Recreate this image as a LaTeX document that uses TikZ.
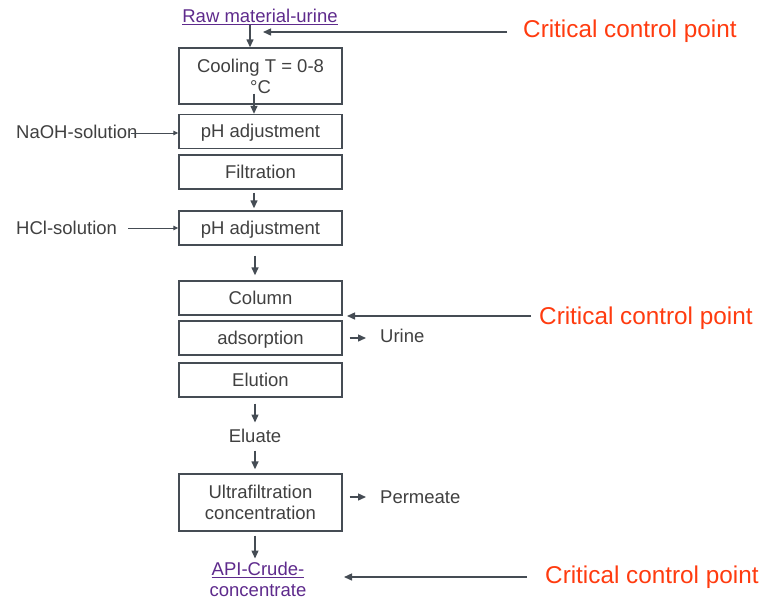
\documentclass[tikz,border=0pt]{standalone}
\usepackage{fontspec}
\setmainfont{Liberation Sans}
\usetikzlibrary{arrows.meta,calc}
\definecolor{ink}{HTML}{404040}
\definecolor{linec}{HTML}{454C54}
\definecolor{linkc}{HTML}{5E2A8C}
\definecolor{ccp}{HTML}{FF3B0F}
\begin{document}
\begin{tikzpicture}[x=1pt,y=-1pt,
  txt/.style={font=\fontsize{18.5}{21}\selectfont, text=ink, inner sep=0pt},
  line1/.style={text height=16.7pt, text depth=3.9pt},
  stepbox/.style={txt, draw=linec, line width=1.4pt, minimum width=163pt, minimum height=34pt, align=center},
  arr/.style={draw=linec, line width=1.4pt, -{Triangle[length=8pt,width=7pt]}},
  thinarr/.style={draw=linec, line width=1pt, -{Triangle[length=5pt,width=4.5pt]}},
  ccptxt/.style={font=\fontsize{24.3}{28}\selectfont, text=ccp, inner sep=0pt, anchor=west},
  link/.style={txt, text=linkc, align=center}]
\useasboundingbox (0,0) rectangle (763,600);

% process steps
\node[link] (raw) at (260,17) {\underline{Raw material-urine}};
\node[stepbox, minimum height=56pt] (cool) at (260.5,76) {Cooling T = 0-8\\°C};
\node[stepbox, line1] (ph1) at (260.5,131.5) {pH adjustment};
\node[stepbox, line1] (filt) at (260.5,172) {Filtration};
\node[stepbox, line1] (ph2) at (260.5,228) {pH adjustment};
\node[stepbox, line1] (col) at (260.5,298) {Column};
\node[stepbox, line1] (ads) at (260.5,338) {adsorption};
\node[stepbox, line1] (elu) at (260.5,380) {Elution};
\node[txt, line1] (eluate) at (255,436) {Eluate};
\node[stepbox, minimum height=57pt, text depth=0pt] (uf) at (260.5,502.5) {\fontsize{18.5}{23}\selectfont Ultrafiltration\\concentration};
\node[link] (api) at (258,579) {\underline{API-Crude-}\\concentrate};

% feeds and outlets
\node[txt, line1, anchor=west] (naoh) at (16,132) {NaOH-solution};
\node[txt, line1, anchor=west] (hcl) at (16,228) {HCl-solution};
\node[txt, line1, anchor=west] (urine) at (380,336) {Urine};
\node[txt, line1, anchor=west] (perm) at (380,497) {Permeate};

% critical control points
\node[ccptxt] (ccp1) at (523,31) {Critical control point};
\node[ccptxt] (ccp2) at (539,318) {Critical control point};
\node[ccptxt] (ccp3) at (545,577) {Critical control point};

% main flow
\coordinate (m0) at (250,0);
\coordinate (m1) at (254,0);
\coordinate (m2) at (255,0);
\draw[arr] (raw.south -| m0) -- (cool.north -| m0);
\draw[arr] ($(cool.south -| m1)+(0,-11)$) -- (ph1.north -| m1);
\draw[arr] ($(filt.south -| m1)+(0,3)$) -- ($(ph2.north -| m1)+(0,-2)$);
\draw[arr] ($(ph2.south -| m2)+(0,10)$) -- ($(col.north -| m2)+(0,-5)$);
\draw[arr] ($(elu.south -| m2)+(0,6)$) -- ($(eluate.north -| m2)+(0,-3)$);
\draw[arr] ($(eluate.south -| m2)+(0,4)$) -- ($(uf.north -| m2)+(0,-4)$);
\draw[arr] ($(uf.south -| m2)+(0,4)$) -- ($(api.north -| m2)+(0,-3)$);

% side streams
\draw[thinarr] ([xshift=-7pt]naoh.east |- 0,133) -- (ph1.west |- 0,133);
\draw[thinarr] ($(hcl.east)+(11,0)$) -- (ph2.west);
\draw[arr] ($(ads.east)+(7,0)$) -- ($(urine.west)+(-14,2)$);
\draw[arr] ($(uf.east |- perm.west)+(7,0)$) -- ($(perm.west)+(-14,0)$);

% control point markers
\draw[arr] ($(ccp1.west)+(-16,1)$) -- ++(-244,0);
\draw[arr] ($(ccp2.west)+(-8,-2)$) -- ++(-184,0);
\draw[arr] ($(ccp3.west)+(-18,0)$) -- ++(-183,0);
\end{tikzpicture}
\end{document}
